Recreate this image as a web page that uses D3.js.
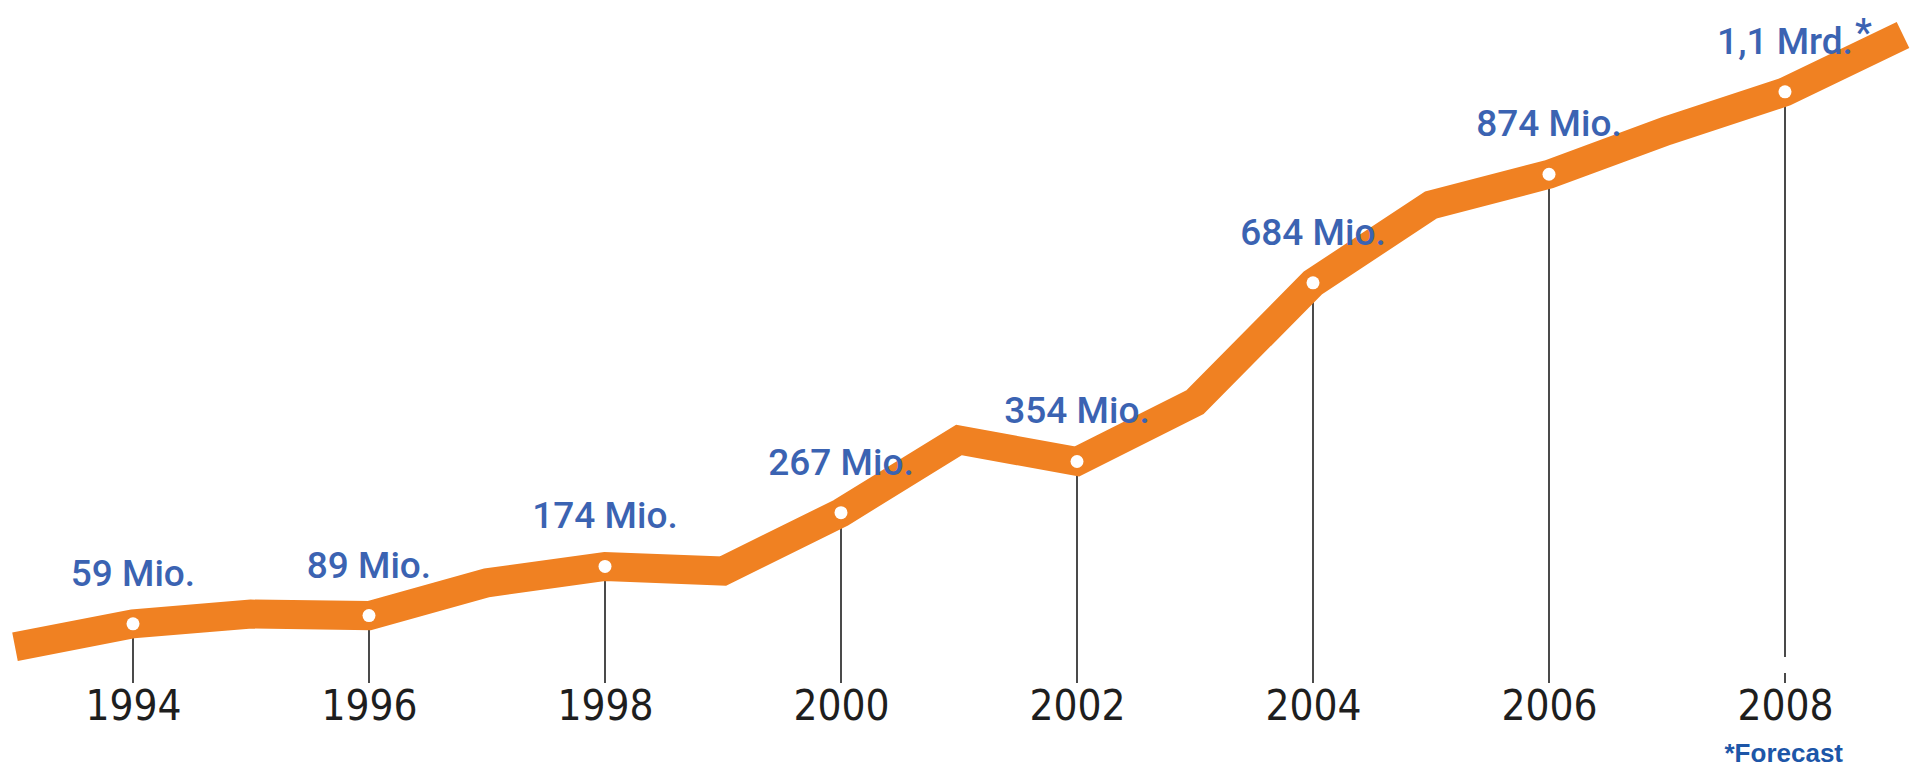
<!DOCTYPE html>
<html>
<head>
<meta charset="utf-8">
<script src="https://cdn.jsdelivr.net/npm/d3@7"></script>
<style>
  body { margin: 0; background: #fff; }
  svg { display: block; }
</style>
</head>
<body>
<svg width="1930" height="768"></svg>
<script>
// line values in Mio. (incl. the in-between years)
var years = [1993, 1994, 1995, 1996, 1997, 1998, 1999, 2000, 2001, 2002, 2003, 2004, 2005, 2006, 2007, 2008, 2009];
var users = [14, 59, 78, 75, 139, 171, 162, 276, 418, 376, 492, 725, 877, 937, 1022, 1098, 1209];

// labelled years and the text shown above them
var labelYears = [1994, 1996, 1998, 2000, 2002, 2004, 2006, 2008];
var labelTexts = ["59 Mio.", "89 Mio.", "174 Mio.", "267 Mio.", "354 Mio.", "684 Mio.", "874 Mio.", "1,1 Mrd."];
var forecastYear = 2008;
var footnote = "*Forecast";

var svg = d3.select("svg")
  , x = d3.scaleLinear().domain([1993, 2009]).range([15, 1903])
  , y = d3.scaleLinear().domain([0, 1250]).range([654, 14])
  , tickBottom = 683
  , labelFont = "Roboto, 'Liberation Sans', sans-serif";

var series = years.map(function(yr, i) { return {year: yr, value: users[i]}; });
var byYear = {};
series.forEach(function(d) { byYear[d.year] = d.value; });

var line = d3.line()
  .x(function(d) { return x(d.year); })
  .y(function(d) { return y(d.value); });

// drop lines from each labelled point down to the year
svg.append("g")
  .selectAll("line")
  .data(labelYears)
  .enter().append("line")
    .attr("x1", function(d) { return x(d); })
    .attr("x2", function(d) { return x(d); })
    .attr("y1", function(d) { return y(byYear[d]); })
    .attr("y2", tickBottom)
    .attr("stroke", "#2b2b2b")
    .attr("stroke-width", 1.7)
    .attr("stroke-dasharray", function(d) {
      // small break in the forecast line
      if (d !== forecastYear) return null;
      var len = tickBottom - 26 - y(byYear[d]);
      return len + " 16 40";
    });

svg.append("path")
  .datum(series)
  .attr("d", line)
  .attr("fill", "none")
  .attr("stroke", "#f08122")
  .attr("stroke-width", 29)
  .attr("stroke-linejoin", "miter")
  .attr("stroke-linecap", "butt");

svg.append("g")
  .selectAll("circle")
  .data(labelYears)
  .enter().append("circle")
    .attr("cx", function(d) { return x(d); })
    .attr("cy", function(d) { return y(byYear[d]); })
    .attr("r", 6.5)
    .attr("fill", "#fff");

// value labels
var labels = svg.append("g")
  .selectAll("text")
  .data(labelYears)
  .enter().append("text")
    .attr("x", function(d) { return x(d); })
    .attr("y", function(d) { return y(byYear[d]) - 38; })
    .attr("text-anchor", "middle")
    .attr("font-family", labelFont)
    .attr("font-weight", 500)
    .attr("font-size", 37)
    .attr("fill", "#3b63b2")
    .text(function(d, i) { return labelTexts[i]; });

labels.filter(function(d) { return d === forecastYear; })
  .each(function(d) {
    var w = this.getComputedTextLength();
    svg.append("text")
      .attr("x", x(d) + w / 2 + 2)
      .attr("y", y(byYear[d]) - 46)
      .attr("font-family", labelFont)
      .attr("font-weight", 500)
      .attr("font-size", 38)
      .attr("fill", "#3b63b2")
      .text("*");
  });

// year axis
var axis = d3.axisBottom(x)
  .tickValues(labelYears)
  .tickFormat(d3.format("d"))
  .tickSize(0)
  .tickPadding(7);

var gAxis = svg.append("g")
  .attr("transform", "translate(0," + tickBottom + ")")
  .call(axis);
gAxis.select(".domain").remove();
gAxis.selectAll("text")
  .attr("font-family", "'Liberation Sans Narrow', 'DejaVu Sans Condensed', sans-serif")
  .attr("font-size", 42)
  .attr("fill", "#1e1e1e");

svg.append("text")
  .attr("x", 1843)
  .attr("y", 762)
  .attr("text-anchor", "end")
  .attr("font-family", "'Liberation Sans', Arial, sans-serif")
  .attr("font-weight", "bold")
  .attr("font-size", 26)
  .attr("fill", "#1d56a8")
  .text(footnote);
</script>
</body>
</html>
